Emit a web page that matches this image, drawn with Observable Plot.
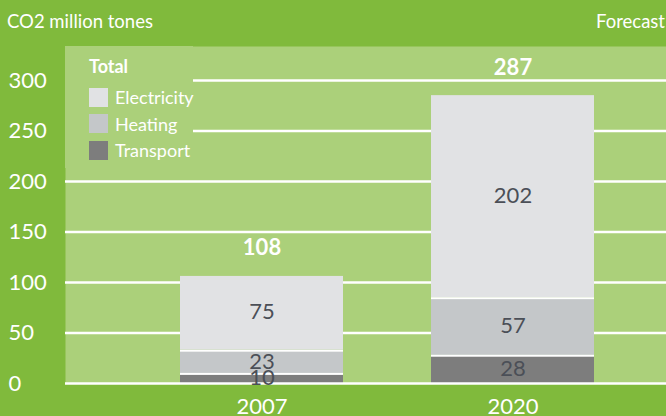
<!DOCTYPE html>
<html>
<head>
<meta charset="utf-8">
<script src="https://cdn.jsdelivr.net/npm/d3@7"></script>
<script src="https://cdn.jsdelivr.net/npm/@observablehq/plot@0.6"></script>
<style>
  html, body { margin: 0; padding: 0; background: #80ba3c; }
  #wrap { position: relative; width: 666px; height: 416px; overflow: hidden; font-family: Lato, "Open Sans", sans-serif; color: #fff; }
  .hdr { position: absolute; font-size: 18.5px; line-height: 1; }
  #legend { position: absolute; left: 65px; top: 46px; width: 128px; height: 122px; background: #abd07a; }
  #legend .ttl { position: absolute; left: 24px; top: 9px; font-weight: bold; font-size: 18px; }
  #legend .item { position: absolute; left: 24px; height: 19px; display: flex; align-items: center; font-size: 18px; }
  #legend .sw { width: 19px; height: 19px; margin-right: 7px; }
</style>
</head>
<body>
<div id="wrap"></div>
<script>
const years = ["2007", "2020"];
const series = ["Electricity", "Heating", "Transport"];
const colors = ["#e1e2e4", "#c4c7c9", "#7d7d7d"];
const transport = [10, 28];
const heating = [23, 57];
const electricity = [75, 202];
const totals = [108, 287];
const yTicks = [0, 50, 100, 150, 200, 250, 300];
const unitLabel = "CO2 million tones";
const forecastLabel = "Forecast";
const legendTitle = "Total";

const rows = [];
years.forEach((yr, i) => {
  rows.push({year: yr, series: "Transport", value: transport[i]});
  rows.push({year: yr, series: "Heating", value: heating[i]});
  rows.push({year: yr, series: "Electricity", value: electricity[i]});
});
const totalRows = years.map((yr, i) => ({year: yr, total: totals[i]}));
const lower = rows.filter(d => d.series !== "Electricity");

const chart = Plot.plot({
  width: 666,
  height: 416,
  marginTop: 46,
  marginBottom: 33,
  marginLeft: 65,
  marginRight: 0,
  style: {background: "transparent", fontFamily: "Lato, 'Open Sans', sans-serif", overflow: "visible"},
  x: {domain: years, range: [179, 595], paddingInner: 0.349, paddingOuter: 0, label: null},
  y: {domain: [0, 300], range: [383, 80], label: null},
  color: {domain: series, range: colors},
  marks: [
    Plot.frame({fill: "#abd07a", stroke: null}),
    Plot.ruleY(yTicks.filter(t => t > 0), {stroke: "white", strokeWidth: 2.5}),
    Plot.barY(lower, {x: "year", y: "value", fill: "white"}),
    Plot.barY(rows, {x: "year", y: "value", fill: "series", insetTop: 2}),
    Plot.ruleY([0], {stroke: "white", strokeWidth: 2.7}),
    Plot.text(rows, Plot.stackY({x: "year", y: "value", text: d => String(d.value), fill: "#4b4f57", fontSize: 22})),
    Plot.text(totalRows, {x: "year", y: "total", text: d => String(d.total), dy: -26, fill: "white", fontSize: 22, fontWeight: "bold"}),
    Plot.axisY({ticks: yTicks, tickSize: 0, tickPadding: 0, textAnchor: "start", dx: -57, fill: "white", fontSize: 22, label: null}),
    Plot.axisX({tickSize: 0, tickPadding: 15, fill: "white", fontSize: 22, label: null})
  ]
});

const wrap = document.getElementById("wrap");
wrap.appendChild(chart);

const h1 = document.createElement("div");
h1.className = "hdr"; h1.style.left = "7px"; h1.style.top = "12px"; h1.textContent = unitLabel;
wrap.appendChild(h1);
const h2 = document.createElement("div");
h2.className = "hdr"; h2.style.right = "1px"; h2.style.top = "12px"; h2.textContent = forecastLabel;
wrap.appendChild(h2);

const lg = document.createElement("div");
lg.id = "legend";
const t = document.createElement("div");
t.className = "ttl"; t.textContent = legendTitle;
lg.appendChild(t);
series.forEach((s, i) => {
  const it = document.createElement("div");
  it.className = "item";
  it.style.top = (41.5 + i * 26.7) + "px";
  const sw = document.createElement("div");
  sw.className = "sw"; sw.style.background = colors[i];
  const lab = document.createElement("span");
  lab.textContent = s;
  it.appendChild(sw); it.appendChild(lab);
  lg.appendChild(it);
});
wrap.appendChild(lg);
</script>
</body>
</html>
